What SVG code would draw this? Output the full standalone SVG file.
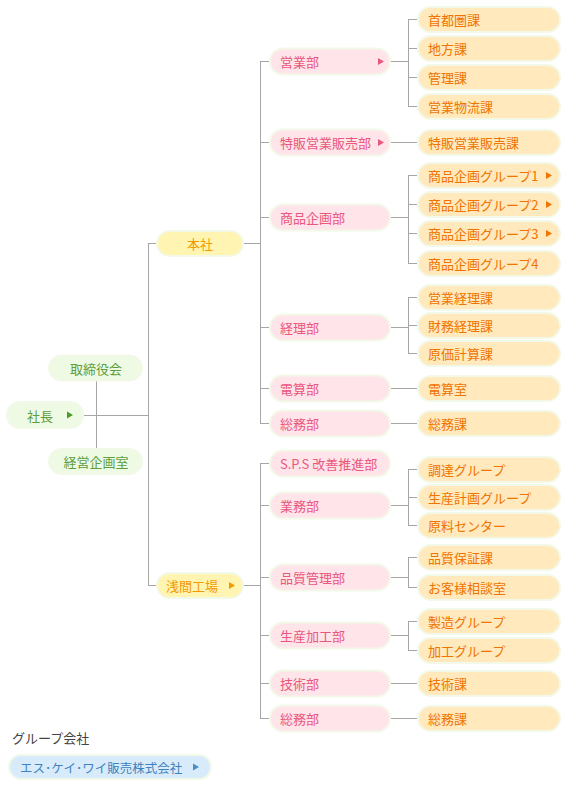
<svg xmlns="http://www.w3.org/2000/svg" xmlns:xlink="http://www.w3.org/1999/xlink" width="567" height="787" viewBox="0 0 567 787">
<defs>
<style>
text{font-family:"Noto Sans CJK JP","Noto Sans",sans-serif;font-size:13px;dominant-baseline:central}
.p{stroke:#f3f9e8;stroke-width:4;paint-order:stroke}
.g rect{fill:#eefae3}.g text{fill:#5e9e3e}.g use{fill:#4e9a2a}
.y rect{fill:#fff4b2}.y text{fill:#f39a00}.y use{fill:#f39a00}
.d rect{fill:#ffe4e9}.d text{fill:#e9577e}.d use{fill:#e9577e}
.s rect{fill:#ffe9bd}.s text{fill:#ef7400}.s use{fill:#ef7400}
.b rect{fill:#d8ebfa}.b text{fill:#3f82bd;font-size:12.5px}.b use{fill:#4a8cc4}
#lines path{stroke:#a6a6a6;stroke-width:1;fill:none}
</style>
<path id="tri" d="M0,-3.5 L6,0 L0,3.5 Z"/>
</defs>
<rect width="567" height="787" fill="#ffffff"/>
<g id="lines">
<path d="M84,415.5H148.5M96.5,380V450M148.5,243V585M148,243.5H158M148,585.5H158M242,243.5H260.5M242,585.5H260.5M260.5,61V423.5M260.5,463V718.5"/>
<path d="M260,61.5H271M260,142.5H271M260,217.5H271M260,327.5H271M260,388.5H271M260,423.5H271M260,463.5H271M260,505.5H271M260,577.5H271M260,635.5H271M260,683.5H271M260,718.5H271"/>
<path d="M391,61.5H408.5M408.5,19V106.5M408,19.5H419M408,48.5H419M408,77.5H419M408,106.5H419"/>
<path d="M391,142.5H419"/>
<path d="M391,217.5H408.5M408.5,175V263.5M408,175.5H419M408,204.5H419M408,233.5H419M408,263.5H419"/>
<path d="M391,327.5H408.5M408.5,297V353.5M408,297.5H419M408,325.5H419M408,353.5H419"/>
<path d="M391,388.5H419M391,423.5H419"/>
<path d="M391,505.5H408.5M408.5,469V525.5M408,469.5H419M408,497.5H419M408,525.5H419"/>
<path d="M391,577.5H408.5M408.5,557V587.5M408,557.5H419M408,587.5H419"/>
<path d="M391,635.5H408.5M408.5,621V650.5M408,621.5H419M408,650.5H419"/>
<path d="M391,683.5H419M391,718.5H419"/>
</g>

<g id="n-torishimariyaku" class="g"><rect class="p" x="50" y="356.5" width="91" height="23" rx="11.5"/><text x="96" y="368" text-anchor="middle">取締役会</text></g>
<g id="n-shacho" class="g"><rect class="p" x="8" y="403" width="74" height="24" rx="12"/><text x="27" y="415">社長</text><use xlink:href="#tri" x="67" y="415"/></g>
<g id="n-keiei" class="g"><rect class="p" x="50" y="450" width="91" height="23" rx="11.5"/><text x="96" y="461.5" text-anchor="middle">経営企画室</text></g>

<g id="n-honsha" class="y"><rect class="p" x="158" y="232" width="84" height="23" rx="11.5"/><text x="200" y="243.5" text-anchor="middle">本社</text></g>
<g id="n-asama" class="y"><rect class="p" x="158" y="574" width="84" height="23" rx="11.5"/><text x="166" y="585.5">浅間工場</text><use xlink:href="#tri" x="229" y="585.5"/></g>

<g id="d-eigyo" class="d"><rect class="p" x="271" y="49.5" width="118" height="24" rx="12"/><text x="280" y="61.5">営業部</text><use xlink:href="#tri" x="378" y="61.5"/></g>
<g id="d-tokuhan" class="d"><rect class="p" x="271" y="130.5" width="118" height="24" rx="12"/><text x="280" y="142.5">特販営業販売部</text><use xlink:href="#tri" x="378" y="142.5"/></g>
<g id="d-shohin" class="d"><rect class="p" x="271" y="205.5" width="118" height="24" rx="12"/><text x="280" y="217.5">商品企画部</text></g>
<g id="d-keiri" class="d"><rect class="p" x="271" y="315.5" width="118" height="24" rx="12"/><text x="280" y="327.5">経理部</text></g>
<g id="d-densan" class="d"><rect class="p" x="271" y="376.5" width="118" height="24" rx="12"/><text x="280" y="388.5">電算部</text></g>
<g id="d-somu1" class="d"><rect class="p" x="271" y="411.5" width="118" height="24" rx="12"/><text x="280" y="423.5">総務部</text></g>
<g id="d-sps" class="d"><rect class="p" x="271" y="451.5" width="118" height="24" rx="12"/><text x="280" y="463.5">S.P.S 改善推進部</text></g>
<g id="d-gyomu" class="d"><rect class="p" x="271" y="493.5" width="118" height="24" rx="12"/><text x="280" y="505.5">業務部</text></g>
<g id="d-hinshitsu" class="d"><rect class="p" x="271" y="565.5" width="118" height="24" rx="12"/><text x="280" y="577.5">品質管理部</text></g>
<g id="d-seisan" class="d"><rect class="p" x="271" y="623.5" width="118" height="24" rx="12"/><text x="280" y="635.5">生産加工部</text></g>
<g id="d-gijutsu" class="d"><rect class="p" x="271" y="671.5" width="118" height="24" rx="12"/><text x="280" y="683.5">技術部</text></g>
<g id="d-somu2" class="d"><rect class="p" x="271" y="706.5" width="118" height="24" rx="12"/><text x="280" y="718.5">総務部</text></g>

<g id="s-shutoken" class="s"><rect class="p" x="419" y="8" width="140" height="23" rx="11.5"/><text x="428" y="19.5">首都圏課</text></g>
<g id="s-chiho" class="s"><rect class="p" x="419" y="37" width="140" height="23" rx="11.5"/><text x="428" y="48.5">地方課</text></g>
<g id="s-kanri" class="s"><rect class="p" x="419" y="66" width="140" height="23" rx="11.5"/><text x="428" y="77.5">管理課</text></g>
<g id="s-butsuryu" class="s"><rect class="p" x="419" y="95" width="140" height="23" rx="11.5"/><text x="428" y="106.5">営業物流課</text></g>
<g id="s-tokuhan" class="s"><rect class="p" x="419" y="131" width="140" height="23" rx="11.5"/><text x="428" y="142.5">特販営業販売課</text></g>
<g id="s-sg1" class="s"><rect class="p" x="419" y="164" width="140" height="23" rx="11.5"/><text x="428" y="175.5">商品企画グループ1</text><use xlink:href="#tri" x="546" y="175.5"/></g>
<g id="s-sg2" class="s"><rect class="p" x="419" y="193" width="140" height="23" rx="11.5"/><text x="428" y="204.5">商品企画グループ2</text><use xlink:href="#tri" x="546" y="204.5"/></g>
<g id="s-sg3" class="s"><rect class="p" x="419" y="222" width="140" height="23" rx="11.5"/><text x="428" y="233.5">商品企画グループ3</text><use xlink:href="#tri" x="546" y="233.5"/></g>
<g id="s-sg4" class="s"><rect class="p" x="419" y="252" width="140" height="23" rx="11.5"/><text x="428" y="263.5">商品企画グループ4</text></g>
<g id="s-eigyokeiri" class="s"><rect class="p" x="419" y="286" width="140" height="23" rx="11.5"/><text x="428" y="297.5">営業経理課</text></g>
<g id="s-zaimu" class="s"><rect class="p" x="419" y="314" width="140" height="23" rx="11.5"/><text x="428" y="325.5">財務経理課</text></g>
<g id="s-genka" class="s"><rect class="p" x="419" y="342" width="140" height="23" rx="11.5"/><text x="428" y="353.5">原価計算課</text></g>
<g id="s-densan" class="s"><rect class="p" x="419" y="377" width="140" height="23" rx="11.5"/><text x="428" y="388.5">電算室</text></g>
<g id="s-somu1" class="s"><rect class="p" x="419" y="412" width="140" height="23" rx="11.5"/><text x="428" y="423.5">総務課</text></g>
<g id="s-chotatsu" class="s"><rect class="p" x="419" y="458" width="140" height="23" rx="11.5"/><text x="428" y="469.5">調達グループ</text></g>
<g id="s-seisankeikaku" class="s"><rect class="p" x="419" y="486" width="140" height="23" rx="11.5"/><text x="428" y="497.5">生産計画グループ</text></g>
<g id="s-genryo" class="s"><rect class="p" x="419" y="514" width="140" height="23" rx="11.5"/><text x="428" y="525.5">原料センター</text></g>
<g id="s-hosho" class="s"><rect class="p" x="419" y="546" width="140" height="23" rx="11.5"/><text x="428" y="557.5">品質保証課</text></g>
<g id="s-okyaku" class="s"><rect class="p" x="419" y="576" width="140" height="23" rx="11.5"/><text x="428" y="587.5">お客様相談室</text></g>
<g id="s-seizo" class="s"><rect class="p" x="419" y="610" width="140" height="23" rx="11.5"/><text x="428" y="621.5">製造グループ</text></g>
<g id="s-kako" class="s"><rect class="p" x="419" y="639" width="140" height="23" rx="11.5"/><text x="428" y="650.5">加工グループ</text></g>
<g id="s-gijutsu" class="s"><rect class="p" x="419" y="672" width="140" height="23" rx="11.5"/><text x="428" y="683.5">技術課</text></g>
<g id="s-somu2" class="s"><rect class="p" x="419" y="707" width="140" height="23" rx="11.5"/><text x="428" y="718.5">総務課</text></g>

<text x="12" y="737" style="fill:#444444">グループ会社</text>
<g id="n-skw" class="b"><rect class="p" x="10" y="756" width="200" height="22" rx="11"/><text x="20" y="767">エス･ケイ･ワイ販売株式会社</text><use xlink:href="#tri" x="193" y="767"/></g>
</svg>
